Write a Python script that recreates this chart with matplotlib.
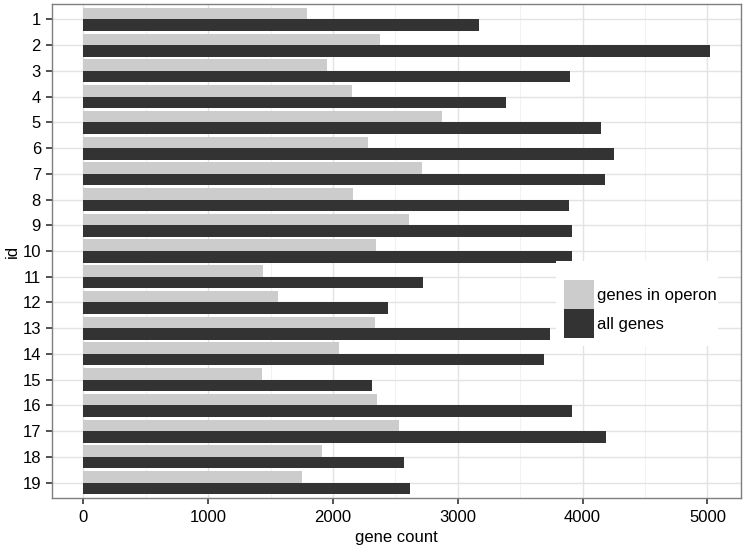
import numpy as np
import matplotlib
matplotlib.use('Agg')
from matplotlib import pyplot as plt
from matplotlib.patches import Patch, Rectangle

plt.rcParams['font.family'] = ['Liberation Sans', 'DejaVu Sans']

ids = [str(i) for i in range(1, 20)]
# genes in operon
operon = [1793, 2375, 1951, 2149, 2872, 2279, 2717, 2157, 2610, 2343,
          1436, 1561, 2335, 2050, 1433, 2354, 2530, 1911, 1751]
# all genes
all_genes = [3171, 5018, 3902, 3390, 4150, 4254, 4180, 3891, 3918, 3915,
             2722, 2437, 3739, 3691, 2315, 3913, 4185, 2573, 2616]

light = '#cccccc'
dark = '#333333'

W, H = 746, 549
fig = plt.figure(figsize=(W/100, H/100), dpi=100)
ax = fig.add_axes([52/W, 1 - 498/H, (741-52)/W, (498-4)/H])

y = np.arange(len(ids))
w = 0.45
ax.barh(y - w/2, operon, height=w, color=light, zorder=2)
ax.barh(y + w/2, all_genes, height=w, color=dark, zorder=2)

ax.set_xlim(-251, 5269)
ax.set_ylim(len(ids) - 1 + 0.6, -0.6)
ax.set_yticks(y)
ax.set_yticklabels(ids)
ax.set_xticks([0, 1000, 2000, 3000, 4000, 5000])
ax.set_xticks([500, 1500, 2500, 3500, 4500], minor=True)

ax.grid(which='major', color='#e3e3e3', linewidth=1.0, zorder=0)
ax.grid(which='minor', axis='x', color='#f2f2f2', linewidth=0.8, zorder=0)
ax.set_axisbelow(True)

for s in ax.spines.values():
    s.set_color('#7f7f7f')
    s.set_linewidth(1.0)

ax.tick_params(axis='both', which='major', length=4, width=1.2, color='#333333',
               labelsize=12, labelcolor='black')
ax.tick_params(axis='x', which='major', pad=5)
ax.tick_params(axis='y', which='major', pad=4)
ax.tick_params(axis='both', which='minor', length=0)

ax.set_xlabel('gene count', fontsize=12, labelpad=3)
ax.set_ylabel('id', fontsize=12, labelpad=2)

# white legend background (ggplot style, covers the grid)
ax.add_patch(Rectangle((556/W, 1 - 346/H), 162/W, 85/H, transform=fig.transFigure,
                       facecolor='white', edgecolor='none', zorder=4, clip_on=False))

handles = [Patch(facecolor=light, label='genes in operon'),
           Patch(facecolor=dark, label='all genes')]
leg = ax.legend(handles=handles, loc='upper left',
                bbox_to_anchor=(563.7/W, 1 - 280/H), bbox_transform=fig.transFigure,
                frameon=False, fontsize=12,
                handlelength=1.8, handleheight=2.3, handletextpad=0.2,
                labelspacing=0.0, borderpad=0.0, borderaxespad=0)
leg.set_zorder(5)

fig.savefig('out.png', dpi=100)
